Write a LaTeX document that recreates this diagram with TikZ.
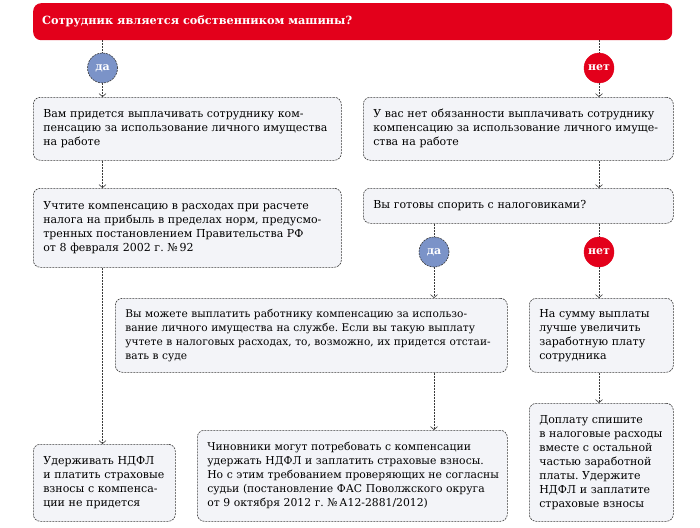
\documentclass[tikz,border=0pt]{standalone}
\usepackage{fontspec}
\setmainfont{DejaVu Serif}
\frenchspacing
\usetikzlibrary{arrows.meta}
\definecolor{hdrred}{HTML}{E3001B}
\definecolor{dablue}{HTML}{7B93C8}
\definecolor{boxfill}{HTML}{F3F4F8}
\definecolor{linec}{HTML}{3A3A3A}
\tikzset{
  box/.style={draw=linec, line width=0.6pt, dash pattern=on 2pt off 1pt, fill=boxfill,
    rounded corners=7pt, align=left, anchor=north west, inner xsep=10pt, inner ysep=0pt,
    font=\fontsize{11}{14}\selectfont, text=black},
  conn/.style={draw=linec, line width=0.6pt, dash pattern=on 2pt off 1pt},
  arr/.style={conn, -{Straight Barb[length=3pt,width=7pt]}},
  yes/.style={circle, minimum size=30pt, inner sep=0pt, fill=dablue, draw=linec, line width=0.6pt,
    dash pattern=on 2pt off 1pt, text=white, font=\bfseries\fontsize{11}{12}\selectfont},
  no/.style={circle, minimum size=30pt, inner sep=0pt, fill=hdrred, draw=hdrred,
    text=white, font=\bfseries\fontsize{11}{12}\selectfont},
}
\begin{document}
\begin{tikzpicture}[x=1pt,y=-1pt]
\useasboundingbox (0,0) rectangle (700,527);
% header
\node[fill=hdrred, rounded corners=8pt, anchor=north west, minimum width=639pt, minimum height=37pt, inner sep=0pt] (hdr) at (33,3) {};
\node[anchor=west, text=white, font=\bfseries\fontsize{11.3}{14}\selectfont, inner sep=0pt] (hdrtext) at (42,21.5) {Сотрудник является собственником машины?};
% circles
\node[yes] (da1) at (102.5,68) {да};
\node[no] (net1) at (599,68) {нет};
% boxes
\node[box, text width=288pt, minimum height=63pt] (b1) at (33,97)
  {Вам придется выплачивать сотруднику ком-\\пенсацию за использование личного имущества\\на работе};
\node[box, text width=290pt, minimum height=63pt] (r1) at (363,97)
  {У вас нет обязанности выплачивать сотруднику\\компенсацию за использование личного имуще-\\ства на работе};
\node[box, text width=288pt, minimum height=79pt] (b2) at (33,188)
  {Учтите компенсацию в расходах при расчете\\налога на прибыль в пределах норм, предусмо-\\тренных постановлением Правительства РФ\\от 8 февраля 2002 г. №\,92};
\node[box, text width=290pt, minimum height=35pt] (r2) at (363,188)
  {Вы готовы спорить с налоговиками?};
\node[yes] (da2) at (434,252) {да};
\node[no] (net2) at (599,252) {нет};
\node[box, text width=372pt, minimum height=74pt, font=\fontsize{10.6}{14}\selectfont] (mid) at (115,298)
  {Вы можете выплатить работнику компенсацию за использо-\\вание личного имущества на службе. Если вы такую выплату\\учтете в налоговых расходах, то, возможно, их придется отстаи-\\вать в суде};
\node[box, text width=124pt, minimum height=74pt] (r3) at (529,298)
  {На сумму выплаты\\лучше увеличить\\заработную плату\\сотрудника};
\node[box, text width=122pt, minimum height=77pt] (l3) at (33,444)
  {Удерживать НДФЛ\\и платить страховые\\взносы с компенса-\\ции не придется};
\node[box, text width=290pt, minimum height=91pt, font=\fontsize{10.8}{14}\selectfont] (mid2) at (197,430)
  {Чиновники могут потребовать с компенсации\\удержать НДФЛ и заплатить страховые взносы.\\\mbox{Но с этим требованием проверяющих не согласны}\\судьи (постановление ФАС Поволжского округа\\от 9 октября 2012 г. №\,А12-2881/2012)};
\node[box, text width=124pt, minimum height=118pt] (r4) at (529,403)
  {Доплату спишите\\в налоговые расходы\\вместе с остальной\\частью заработной\\платы. Удержите\\НДФЛ и заплатите\\страховые взносы};
% connectors
\draw[conn] (hdr.south -| da1) -- (da1);
\draw[arr] (da1) -- (b1.north -| da1);
\draw[conn] (hdr.south -| net1) -- (net1);
\draw[arr] (net1) -- (r1.north -| net1);
\draw[arr] (b1.south -| da1) -- (b2.north -| da1);
\draw[arr] (r1.south -| net1) -- (r2.north -| net1);
\draw[arr] (b2.south -| da1) -- (l3.north -| da1);
\draw[conn] (r2.south -| da2) -- (da2);
\draw[arr] (da2) -- (mid.north -| da2);
\draw[conn] (r2.south -| net2) -- (net2);
\draw[arr] (net2) -- (r3.north -| net2);
\draw[arr] (mid.south -| da2) -- (mid2.north -| da2);
\draw[arr] (r3.south -| net2) -- (r4.north -| net2);
\end{tikzpicture}
\end{document}
